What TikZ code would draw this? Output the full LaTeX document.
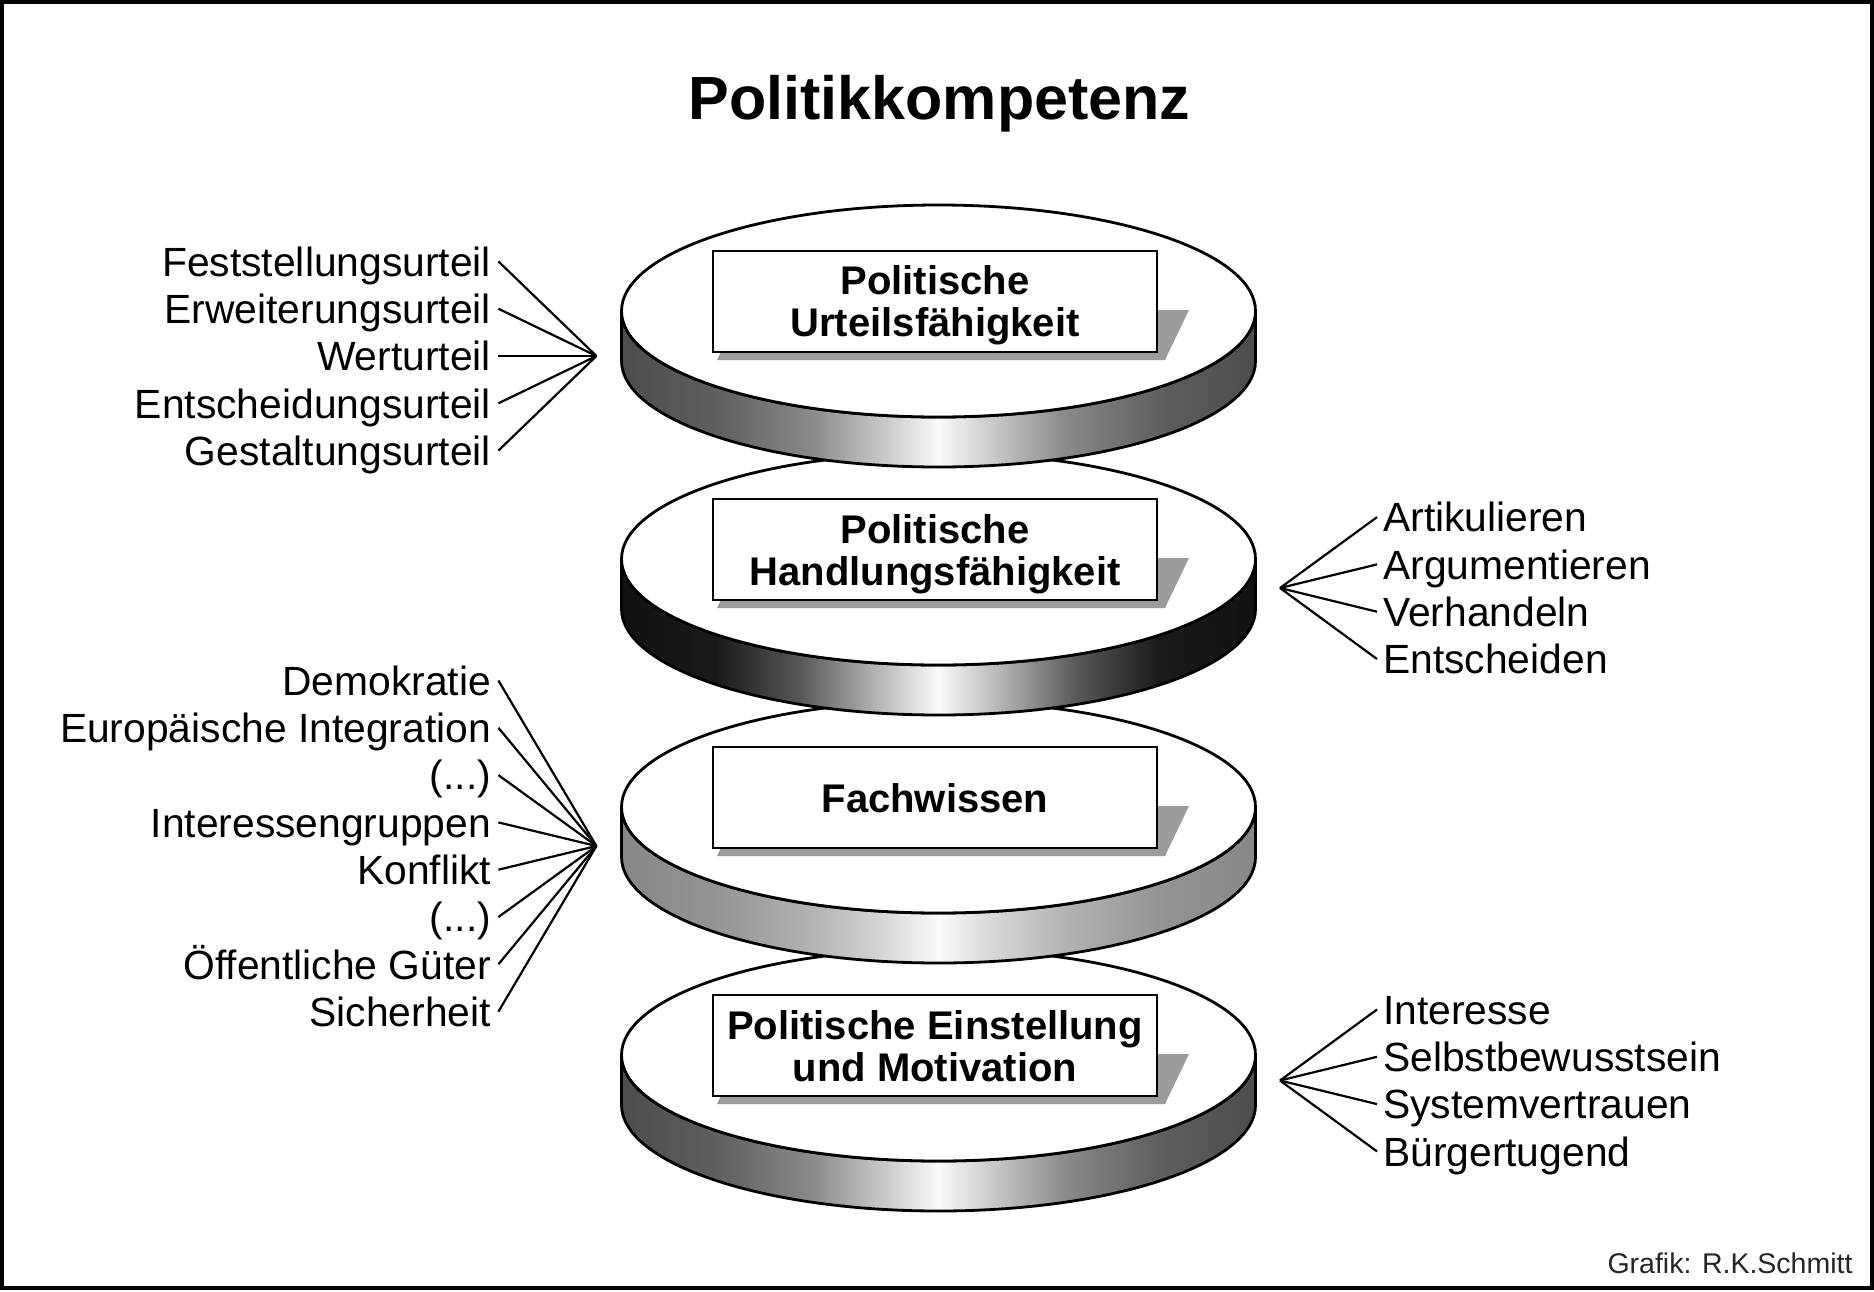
\documentclass[tikz,border=0pt]{standalone}
\usepackage{fontspec}
\setmainfont{Liberation Sans}

% side shadings of the four discs (path box maps to 25bp..75bp)
\pgfdeclarehorizontalshading{bandA}{100bp}{%
  color(0bp)=(black!70); color(25bp)=(black!70); color(32.5bp)=(black!63);
  color(40bp)=(black!46); color(46bp)=(black!20); color(50bp)=(black!2);
  color(54bp)=(black!20); color(60bp)=(black!46); color(67.5bp)=(black!63);
  color(75bp)=(black!70); color(100bp)=(black!70)}
\pgfdeclarehorizontalshading{bandB}{100bp}{%
  color(0bp)=(black!93); color(25bp)=(black!93); color(32.5bp)=(black!90);
  color(39bp)=(black!66); color(45bp)=(black!30); color(50bp)=(black!2);
  color(55bp)=(black!30); color(61bp)=(black!66); color(67.5bp)=(black!90);
  color(75bp)=(black!93); color(100bp)=(black!93)}
\pgfdeclarehorizontalshading{bandC}{100bp}{%
  color(0bp)=(black!47); color(25bp)=(black!47); color(32.5bp)=(black!42);
  color(40bp)=(black!30); color(46bp)=(black!15); color(50bp)=(black!2);
  color(54bp)=(black!15); color(60bp)=(black!30); color(67.5bp)=(black!42);
  color(75bp)=(black!47); color(100bp)=(black!47)}

\definecolor{shadowgray}{gray}{0.61}
\newcommand\pkdots{(...)}

% one disc: shaded side, white top face, shadow of the label box
\newcommand\pkdisc[2]{%
  \shadedraw[shading=#2, disc line]
    (621.5,#1) -- (621.5,#1+50)
    arc[start angle=180, end angle=0, x radius=317, y radius=106]
    -- (1255.5,#1)
    arc[start angle=0, end angle=180, x radius=317, y radius=106] -- cycle;
  \filldraw[fill=white, disc line] (938.5,#1) ellipse[x radius=317, y radius=106];
  \fill[shadowgray] (741,#1-1) -- (1189,#1-1) -- (1165,#1+49) -- (717,#1+49) -- cycle;
}

\begin{document}
\begin{tikzpicture}[x=1pt, y=-1pt,
  disc line/.style={line width=2.8pt, draw=black, line join=round},
  labelbox/.style={draw=black, line width=2.7pt, fill=white,
    minimum width=444pt, minimum height=101pt, inner sep=0pt,
    align=center, text depth=0pt,
    font=\bfseries\fontsize{40}{42}\selectfont},
  lefttext/.style={anchor=east, inner xsep=7.2pt, inner ysep=0pt,
    text height=29.4pt, text depth=0pt,
    font=\fontsize{40.8}{47}\selectfont},
  righttext/.style={anchor=west, inner xsep=6pt, inner ysep=0pt,
    text height=29.4pt, text depth=0pt,
    font=\fontsize{40.8}{47}\selectfont},
  conn/.style={line width=2.2pt, draw=black}
]
\useasboundingbox (0,0) rectangle (1874,1291);
\fill[white] (0,0) rectangle (1874,1291);
\draw[line width=3.5pt] (2,2) rectangle (1872,1288);

\node[anchor=base, font=\bfseries\fontsize{61}{70}\selectfont] (title)
  at (939.5,119) {Politikkompetenz};

% discs, drawn from the bottom up
\pkdisc{1055}{bandA}
\node[labelbox] (motivation) at (935,1045.5) {Politische Einstellung\\und Motivation};
\pkdisc{807}{bandC}
\node[labelbox] (wissen) at (935,797.5) {Fachwissen};
\pkdisc{559}{bandB}
\node[labelbox] (handlung) at (935,549.5) {Politische\\Handlungsfähigkeit};
\pkdisc{311}{bandA}
\node[labelbox] (urteil) at (935,301.5) {Politische\\Urteilsfähigkeit};

% meeting points of the connectors
\coordinate (ku) at (596.4,356);
\coordinate (kh) at (1280,588);
\coordinate (kf) at (596.4,846);
\coordinate (km) at (1280,1080.5);

% forms of judgement
\foreach \t [count=\i] in {Feststellungsurteil, Erweiterungsurteil, Werturteil,
    Entscheidungsurteil, Gestaltungsurteil} {
  \node[lefttext] (u\i) at (498.4,{261.4+(\i-1)*47.3}) {\t};
  \draw[conn] (u\i.east) -- (ku);
}

% action skills
\foreach \t [count=\i] in {Artikulieren, Argumentieren, Verhandeln, Entscheiden} {
  \node[righttext] (h\i) at (1377,{517.1+(\i-1)*47.3}) {\t};
  \draw[conn] (h\i.west) -- (kh);
}

% subject knowledge
\foreach \t [count=\i] in {Demokratie, Europäische Integration, \pkdots,
    Interessengruppen, Konflikt, \pkdots, Öffentliche Güter, Sicherheit} {
  \node[lefttext] (f\i) at (498.4,{680.5+(\i-1)*47.3}) {\t};
  \draw[conn] (f\i.east) -- (kf);
}

% attitudes and motivation
\foreach \t [count=\i] in {Interesse, Selbstbewusstsein, Systemvertrauen, Bürgertugend} {
  \node[righttext] (m\i) at (1377,{1009.5+(\i-1)*47.3}) {\t};
  \draw[conn] (m\i.west) -- (km);
}

\node[anchor=base east, font=\fontsize{28.5}{30}\selectfont, text=black!85] (credit)
  at (1856,1273) {Grafik: R.K.Schmitt};
\end{tikzpicture}
\end{document}
